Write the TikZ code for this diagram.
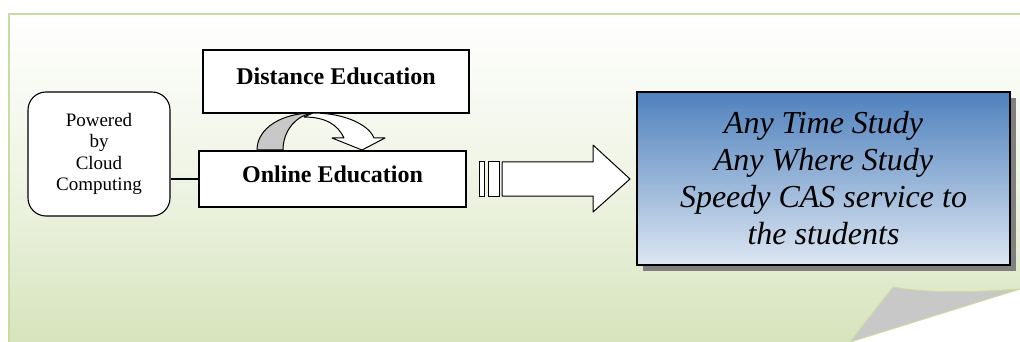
\documentclass[tikz,border=0pt]{standalone}
\usepackage{fontspec}
\setmainfont{Liberation Serif}
\usepackage{tikz}
\usetikzlibrary{shadows}
\definecolor{PageGreen}{RGB}{215,228,189}
\definecolor{PageEdge}{RGB}{200,219,163}
\definecolor{BoxBlue}{RGB}{79,129,189}
\definecolor{BoxPale}{RGB}{220,230,242}
\definecolor{CurlGrey}{RGB}{200,200,200}
\tikzset{
  edubox/.style={draw, line width=1.1pt, fill=white, minimum width=266pt,
    font=\fontsize{24}{28}\selectfont\bfseries, text height=17pt, text depth=10pt},
  cloudbox/.style={draw, line width=1.1pt, fill=white, rounded corners=18pt,
    minimum width=142pt, minimum height=124pt, align=center,
    font=\fontsize{19}{21.5}\selectfont},
  studybox/.style={draw, line width=1.3pt, top color=BoxBlue, bottom color=BoxPale,
    minimum width=373pt, minimum height=173pt, align=center,
    font=\fontsize{32}{37}\selectfont\itshape,
    drop shadow={shadow xshift=6pt, shadow yshift=-6pt, fill=black!50, opacity=1}},
  barbox/.style={draw, line width=1pt, fill=white, minimum height=34pt, inner sep=0pt},
  outline/.style={draw, line width=1pt, line join=round},
}
\begin{document}
\begin{tikzpicture}[x=1pt, y=-1pt]
    \useasboundingbox (0,0) rectangle (1020,342);
    % page with curled corner
    \shade[top color=white, bottom color=PageGreen, middle color=PageGreen!40] (9,14) rectangle (1020,342);
    \draw[PageEdge, line width=1.5pt] (9,342) -- (9,14) -- (1020,14);
    \fill[white] (1020,289) -- (1020,342) -- (850,342) -- cycle;
    \filldraw[fill=CurlGrey, draw=PageEdge, line width=1pt]
      (893,287) .. controls (930,294) and (980,292) .. (1020,289) -- (850,342) -- cycle;

    \node[cloudbox] (cloud) at (99,154) {Powered\\by\\Cloud\\Computing};
    \node[edubox, minimum height=63pt] (distance) at (336,81.5) {Distance Education};
    \node[edubox, minimum height=56pt, minimum width=267pt] (online) at (332.5,179) {Online Education};
    \node[studybox] (study) at (823.5,178.5)
      {Any Time Study\\Any Where Study\\Speedy CAS service to\\the students};
    \node[barbox, minimum width=5pt] (bar1) at (481.5,179) {};
    \node[barbox, minimum width=11pt] (bar2) at (493.5,179) {};

    \draw[line width=1.1pt] (online.west) -- (online.west -| cloud.east);

    % curved arrow from distance to online
    \path[outline, fill=CurlGrey] (257,150) .. controls (257,128) and (282,113) .. (313,113)
      .. controls (297,115) and (283,130) .. (283,150) -- cycle;
    \path[outline, fill=white] (313,113) .. controls (345,113) and (369,125) .. (374,138)
      -- (385,138) -- (362,150) -- (332,138) -- (344,138)
      .. controls (338,125) and (326,117) .. (304,117) -- cycle;

    % block arrow to the study box
    \path[outline, fill=white] (502,162) -- (593,162) -- (593,145)
      -- (630,179) -- (593,212) -- (593,196) -- (502,196) -- cycle;
\end{tikzpicture}
\end{document}
